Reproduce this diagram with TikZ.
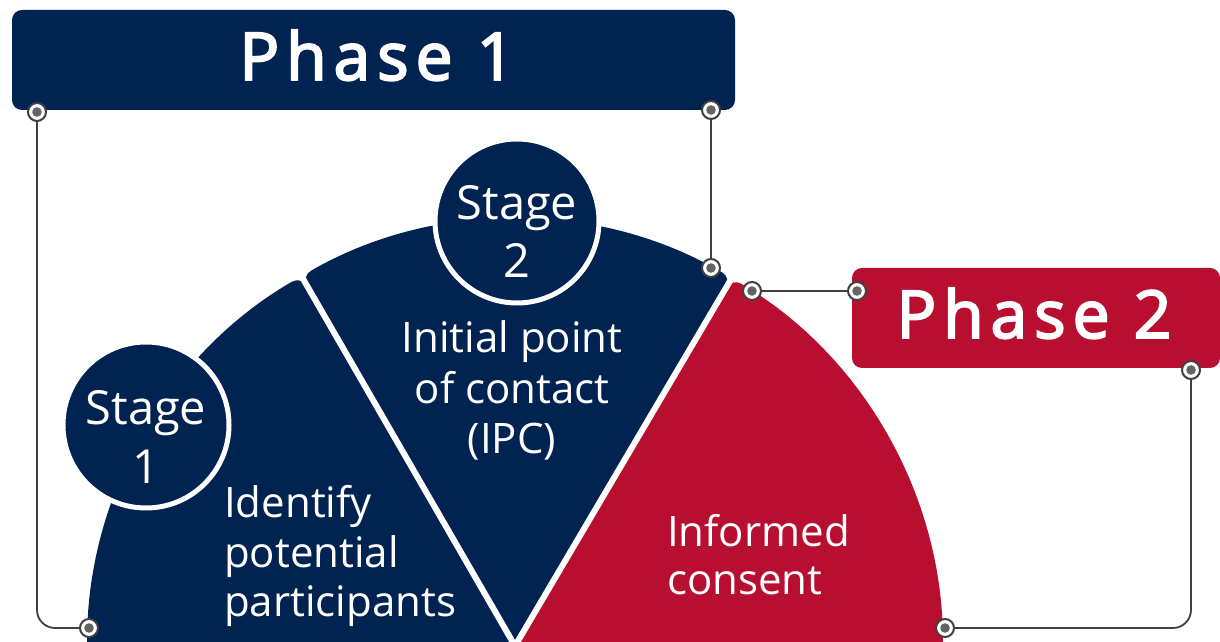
\documentclass[tikz,border=0pt]{standalone}
\usepackage{fontspec}
\setmainfont{Open Sans}
\newfontfamily\phfont[LetterSpace=10.5, FakeBold=3]{Open Sans}
\definecolor{navy}{RGB}{0,35,82}
\definecolor{crim}{RGB}{184,14,48}
\definecolor{lineg}{RGB}{64,64,64}
\definecolor{dotg}{RGB}{100,100,100}
\tikzset{
  phbox/.style={rectangle, rounded corners=10pt, inner sep=0pt},
  phtext/.style={anchor=base, text=white, inner sep=0pt, font=\phfont\fontsize{66}{70}\selectfont},
  stg/.style={anchor=base, text=white, inner sep=0pt, font=\fontsize{47}{50}\selectfont},
  body/.style={anchor=base, text=white, inner sep=0pt, font=\fontsize{42}{50}\selectfont},
  bodyw/.style={anchor=base west, text=white, inner sep=0pt, font=\fontsize{42}{50}\selectfont},
  stagecirc/.style={circle, fill=navy, draw=white, line width=5pt, inner sep=0pt},
  marker/.style={circle, draw=lineg, line width=2pt, fill=white, minimum size=18pt, inner sep=0pt,
    path picture={\fill[dotg] (path picture bounding box.center) circle (4.8pt);}},
  conn/.style={draw=lineg, line width=1.8pt},
  gap/.style={draw=white, line width=6pt}
}
\begin{document}
\begin{tikzpicture}[x=1pt,y=1pt]
\useasboundingbox (0,0) rectangle (1220,642);
\fill[white] (0,0) rectangle (1220,642);
\coordinate (C) at (515,-4);
\def\R{427}
% wedges
\fill[navy, rounded corners=11pt] (C) -- ++(120:\R) arc[start angle=120, end angle=186, radius=\R] -- cycle;
\fill[navy, rounded corners=11pt] (C) -- ++(59.5:\R) arc[start angle=59.5, end angle=120, radius=\R] -- cycle;
\fill[crim, rounded corners=11pt] (C) -- ++(-6:\R) arc[start angle=-6, end angle=59.5, radius=\R] -- cycle;
% gaps
\draw[gap] (C) -- ++(120:\R+15);
\draw[gap] (C) -- ++(59.5:\R+15);
% stage circles
\node[stagecirc, minimum size=166pt] (c1) at (146,217) {};
\node[stagecirc, minimum size=164pt] (c2) at (517,421) {};
\node[stg] (s1a) at (146,217) {Stage};
\node[stg] (s1b) at (146,158) {1};
\node[stg] (s2a) at (517,422) {Stage};
\node[stg] (s2b) at (517,364) {2};
% wedge texts
\node[body] (t2a) at (512,289) {Initial point};
\node[body] (t2b) at (512,238) {of contact};
\node[body] (t2c) at (512,188) {(IPC)};
\node[bodyw] (t1a) at (224,124) {Identify};
\node[bodyw] (t1b) at (224,74) {potential};
\node[bodyw] (t1c) at (224,25) {participants};
\node[bodyw] (t3a) at (667,95) {Informed};
\node[bodyw] (t3b) at (667,47) {consent};
% phase boxes
\node[phbox, fill=navy, minimum width=723pt, minimum height=100pt] (p1) at (373.5,582) {};
\node[phtext] (p1t) at (377,562) {Phase 1};
\node[phbox, fill=crim, minimum width=368pt, minimum height=100pt] (p2) at (1036,324) {};
\node[phtext] (p2t) at (1034,304) {Phase 2};
% markers
\node[marker] (m1) at (37,530) {};
\node[marker] (m2) at (89,14) {};
\node[marker] (m3) at (711,532) {};
\node[marker] (m4) at (711,374) {};
\node[marker] (m5) at (752,351) {};
\node[marker] (m6) at (857,351) {};
\node[marker] (m7) at (1191,272) {};
\node[marker] (m8) at (945,14) {};
% connectors
\draw[conn, rounded corners=18pt] (m1) |- (m2);
\draw[conn] (m3) -- (m4);
\draw[conn] (m5) -- (m6);
\draw[conn, rounded corners=18pt] (m7) |- (m8);
\end{tikzpicture}
\end{document}
